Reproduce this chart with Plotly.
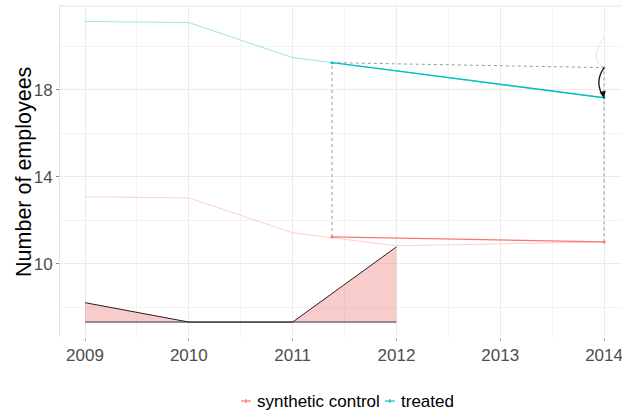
import plotly.graph_objects as go

# ---- data ----
years = [2009, 2010, 2011, 2012, 2013, 2014]
treated = [21.13, 21.08, 19.47, 18.87, 18.23, 17.63]
synthetic = [13.08, 13.03, 11.43, 10.83, 10.92, 11.01]

highlight_x = [2011.38, 2014]
highlight_treated = [19.24, 17.63]
highlight_synth = [11.24, 11.01]

gap_years = [2009, 2010, 2011, 2012]
gap_values = [8.22, 7.33, 7.33, 10.78]
gap_base = 7.33

x_ticks = [2009, 2010, 2011, 2012, 2013, 2014]
y_ticks = [10, 14, 18]
treatment_year = 2012
legend_names = ["synthetic control", "treated"]

CYAN = "#00BFC4"
RED = "#F8766D"
FONT = "Liberation Sans, Arial, sans-serif"
Y_RANGE = [6.644, 21.84]

fig = go.Figure()

# faded full series
fig.add_trace(go.Scatter(x=years, y=treated, mode="lines",
                         line=dict(color="rgba(0,191,196,0.4)", width=1),
                         showlegend=False, hoverinfo="skip"))
fig.add_trace(go.Scatter(x=years, y=synthetic, mode="lines",
                         line=dict(color="rgba(248,118,109,0.35)", width=1),
                         showlegend=False, hoverinfo="skip"))

# gap ribbon
fig.add_trace(go.Scatter(x=gap_years, y=[gap_base] * len(gap_years), mode="lines",
                         line=dict(color="#333333", width=1), showlegend=False))
fig.add_trace(go.Scatter(x=gap_years, y=gap_values, mode="lines", fill="tonexty",
                         fillcolor="rgba(240,120,120,0.38)",
                         line=dict(color="#222222", width=1), showlegend=False))

# dashed counterfactual guide
diff0 = highlight_treated[0] - highlight_synth[0]
cf_end = highlight_synth[1] + diff0
fig.add_trace(go.Scatter(
    x=[highlight_x[0], highlight_x[0], highlight_x[1], highlight_x[1]],
    y=[highlight_synth[0], highlight_treated[0], cf_end, highlight_synth[1]],
    mode="lines", line=dict(color="#9a9a9a", width=1, dash="3px,3px"),
    showlegend=False, hoverinfo="skip"))
fig.add_trace(go.Scatter(x=[highlight_x[1]], y=[cf_end], mode="markers",
                         marker=dict(color=RED, size=3), showlegend=False))

# highlighted segments
fig.add_trace(go.Scatter(x=highlight_x, y=highlight_synth, mode="lines+markers",
                         name=legend_names[0], showlegend=False,
                         line=dict(color=RED, width=1.3),
                         marker=dict(color=RED, size=3)))
fig.add_trace(go.Scatter(x=highlight_x, y=highlight_treated, mode="lines+markers",
                         name=legend_names[1], showlegend=False,
                         line=dict(color=CYAN, width=1.5),
                         marker=dict(color=CYAN, size=3)))

# treatment year line
fig.add_shape(type="line", x0=treatment_year, x1=treatment_year, y0=gap_base, y1=Y_RANGE[1],
              xref="x", yref="y", line=dict(color="#cfcfcf", width=1), layer="below")

# faint arc and curved arrow
xe = highlight_x[1]
fig.add_shape(type="path",
              path=f"M {xe},{cf_end + 1.38} Q {xe - 0.15},{cf_end + 0.4} {xe},{cf_end}",
              line=dict(color="#e2e2e2", width=1))
fig.add_shape(type="path",
              path=f"M {xe},{cf_end} Q {xe - 0.1},{(cf_end + highlight_treated[1]) / 2} {xe},{highlight_treated[1]}",
              line=dict(color="#111111", width=1.3))
fig.add_annotation(x=xe, y=highlight_treated[1], ax=xe - 0.012, ay=highlight_treated[1] + 0.25,
                   xref="x", yref="y", axref="x", ayref="y", text="",
                   showarrow=True, arrowhead=2, arrowsize=1, arrowwidth=1.3, arrowcolor="#111111")

# top border
fig.add_shape(type="line", x0=0, x1=1, y0=1, y1=1, xref="paper", yref="paper",
              line=dict(color="#e3e3e3", width=1))

# y-axis title
fig.add_annotation(x=-0.065, y=0.5, xref="paper", yref="paper", text="Number of employees",
                   textangle=-90, showarrow=False, xanchor="center", yanchor="middle",
                   font=dict(size=21.5, color="black", family=FONT))

# compact legend (small key glyphs as in the reference)
legend_y = -0.1934
legend_items = [(legend_names[0], RED, 0.322), (legend_names[1], CYAN, 0.578)]
for name, col, x0 in legend_items:
    w = 0.0178
    fig.add_shape(type="line", x0=x0, x1=x0 + w, y0=legend_y, y1=legend_y,
                  xref="paper", yref="paper", line=dict(color=col, width=1.2))
    fig.add_shape(type="line", x0=x0 + w / 2, x1=x0 + w / 2, y0=legend_y - 0.006, y1=legend_y + 0.006,
                  xref="paper", yref="paper", line=dict(color=col, width=1.2))
    fig.add_annotation(x=x0 + w + 0.007, y=legend_y, xref="paper", yref="paper",
                       text=name, showarrow=False, xanchor="left", yanchor="middle",
                       font=dict(size=17, color="black", family=FONT))

fig.update_layout(
    width=622, height=413,
    margin=dict(l=60, r=0, t=6, b=76),
    paper_bgcolor="white", plot_bgcolor="white",
    font=dict(family=FONT, color="#4d4d4d", size=16),
    showlegend=False,
    xaxis=dict(range=[2008.759, 2014.173], tickvals=x_ticks, ticktext=[str(v) for v in x_ticks],
               showgrid=True, gridcolor="#ebebeb", gridwidth=1, zeroline=False, automargin=False,
               ticks="outside", ticklen=3, tickcolor="#b0b0b0", ticklabeloverflow="allow",
               minor=dict(dtick=0.5, tick0=2009, showgrid=True, gridcolor="#f3f3f3", gridwidth=1),
               tickfont=dict(size=17, color="#4d4d4d")),
    yaxis=dict(range=Y_RANGE, tickvals=y_ticks, ticktext=[str(v) for v in y_ticks],
               showgrid=True, gridcolor="#ebebeb", gridwidth=1, zeroline=False, automargin=False,
               showline=True, linecolor="#e3e3e3", linewidth=1,
               ticks="outside", ticklen=3, tickcolor="#888888",
               minor=dict(dtick=2, tick0=8, showgrid=True, gridcolor="#f3f3f3", gridwidth=1),
               tickfont=dict(size=17, color="#4d4d4d")),
)

fig.write_html("out.html", config={"displayModeBar": False},
               post_script="document.body.style.margin='0';document.body.style.overflow='hidden';")
